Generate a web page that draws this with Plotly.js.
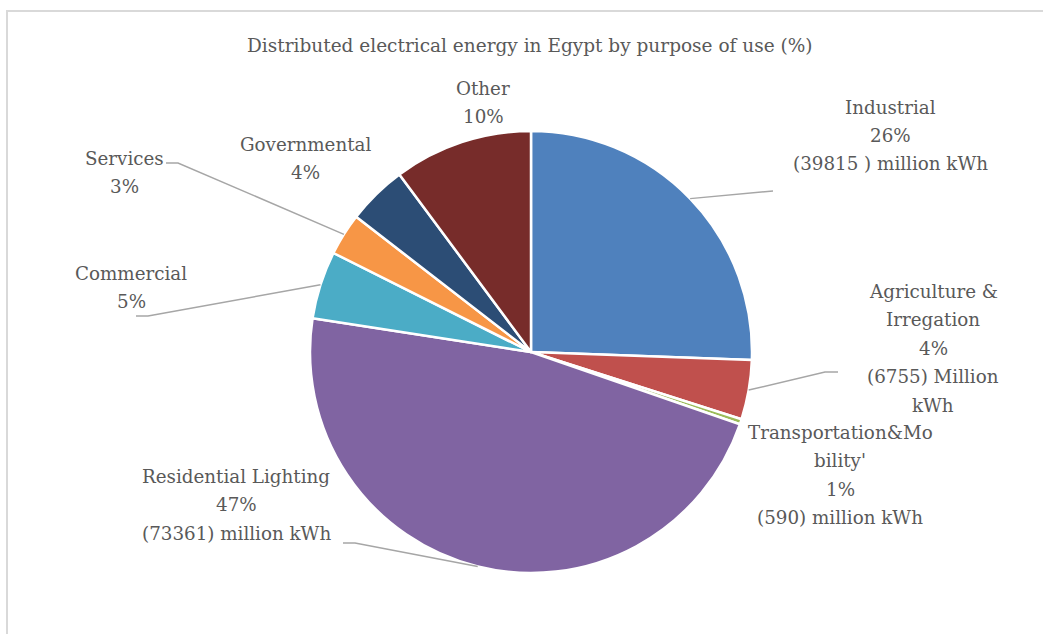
<!DOCTYPE html>
<html>
<head>
<meta charset="utf-8">
<script src="https://cdn.plot.ly/plotly-3.0.1.min.js"></script>
<style>
  html, body { margin: 0; padding: 0; background: #fff; }
  #frame { position: absolute; left: 6px; top: 10px; width: 1037px; height: 624px;
           border-left: 2px solid #d9d9d9; border-top: 2px solid #d9d9d9; }
  #chart { position: absolute; left: 0; top: 0; width: 1043px; height: 634px; }
</style>
</head>
<body>
<div id="frame"></div>
<div id="chart"></div>
<script>
// ---- data ----
const categories = ["Industrial", "Agriculture & Irregation", "Transportation&Mobility'", "Residential Lighting",
                    "Commercial", "Services", "Governmental", "Other"];
const values = [39815, 6755, 590, 73361, 7700, 4800, 6800, 15800];
const percentLabels = ["26%", "4%", "1%", "47%", "5%", "3%", "4%", "10%"];
const labelLines = [
  ["Industrial", "26%", "(39815 ) million kWh"],
  ["Agriculture &", "Irregation", "4%", "(6755) Million", "kWh"],
  ["Transportation&Mo", "bility'", "1%", "(590) million kWh"],
  ["Residential Lighting", "47%", "(73361) million kWh"],
  ["Commercial", "5%"],
  ["Services", "3%"],
  ["Governmental", "4%"],
  ["Other", "10%"]
];
const colors = ["#4F81BD", "#C0504D", "#9BBB59", "#8064A2", "#4BACC6", "#F79646", "#2C4D75", "#772C2A"];
const titleText = "Distributed electrical energy in Egypt by purpose of use (%)";

// ---- layout constants ----
const W = 1043, H = 634;
const CX = 531, CY = 352, R = 221;
const FONT = "DejaVu Serif, serif";
const TEXT_COLOR = "#595959";
const LINE_GAP = 28.5;
// label anchor (center x, first line y) in pixels
const labelPos = [[890, 107], [933, 291], [840, 432], [236, 476], [131, 273], [124, 158], [305, 144], [483, 88]];
// leader line elbow points (pixels); null = no leader line
const leaderPts = [
  [[773, 191]],
  [[825, 372], [838, 372]],
  null,
  [[355, 543], [343, 543]],
  [[148, 316], [136, 316]],
  [[178, 163], [166, 163]],
  null,
  null
];

const px = x => x / W;
const py = y => 1 - y / H;

const annotations = [{
  text: titleText, xref: "paper", yref: "paper", x: px(530), y: py(46),
  xanchor: "center", yanchor: "middle", showarrow: false,
  font: { family: FONT, size: 18.5, color: TEXT_COLOR }
}];
labelLines.forEach((lines, i) => {
  lines.forEach((t, j) => {
    annotations.push({
      text: t, xref: "paper", yref: "paper",
      x: px(labelPos[i][0]), y: py(labelPos[i][1] + j * LINE_GAP),
      xanchor: "center", yanchor: "middle", showarrow: false,
      font: { family: FONT, size: 18.3, color: TEXT_COLOR }
    });
  });
});

// leader lines from slice mid-angle on the rim
const total = values.reduce((a, b) => a + b, 0);
const shapes = [];
let cum = 0;
values.forEach((v, i) => {
  const mid = (cum + v / 2) / total * 2 * Math.PI;
  cum += v;
  if (!leaderPts[i]) return;
  const sx = CX + R * Math.sin(mid), sy = CY - R * Math.cos(mid);
  let path = `M ${px(sx)} ${py(sy)}`;
  leaderPts[i].forEach(p => { path += ` L ${px(p[0])} ${py(p[1])}`; });
  shapes.push({ type: "path", xref: "paper", yref: "paper", path: path,
                line: { color: "#a6a6a6", width: 1.5 } });
});

const trace = {
  type: "pie",
  labels: categories,
  values: values,
  sort: false,
  direction: "clockwise",
  rotation: 0,
  textinfo: "none",
  hoverinfo: "label+percent",
  marker: { colors: colors, line: { color: "#ffffff", width: 2.5 } },
  domain: { x: [(CX - R) / W, (CX + R) / W], y: [(H - CY - R) / H, (H - CY + R) / H] },
  showlegend: false
};

const layout = {
  width: W, height: H,
  margin: { l: 0, r: 0, t: 0, b: 0 },
  paper_bgcolor: "rgba(0,0,0,0)",
  plot_bgcolor: "rgba(0,0,0,0)",
  showlegend: false,
  annotations: annotations,
  shapes: shapes
};

Plotly.newPlot("chart", [trace], layout, { displayModeBar: false, staticPlot: true });
</script>
</body>
</html>
